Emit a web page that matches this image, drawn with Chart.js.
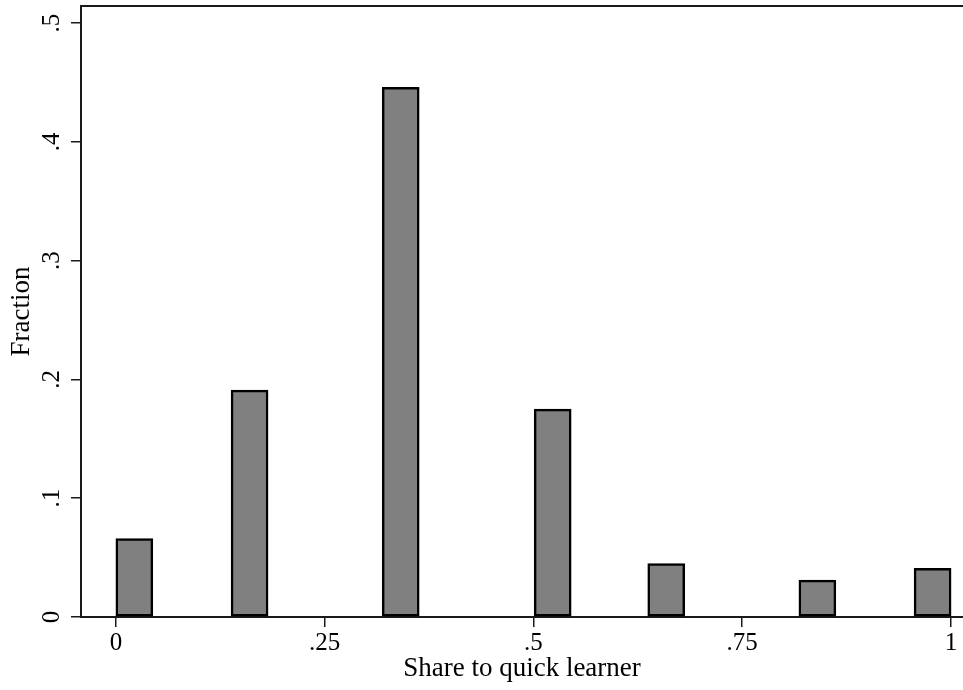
<!DOCTYPE html>
<html>
<head>
<meta charset="utf-8">
<script src="https://cdn.jsdelivr.net/npm/chart.js@4/dist/chart.umd.min.js"></script>
<style>
  html, body { margin: 0; padding: 0; background: #ffffff; overflow: hidden; }
  #wrap { width: 963px; height: 690px; }
</style>
</head>
<body>
<div id="wrap"><canvas id="c" width="963" height="690"></canvas></div>
<script>
// Bin centres (share to quick learner) and fractions
const binCenters = [0.022, 0.160, 0.341, 0.523, 0.659, 0.840, 0.978];
const fractions  = [0.066, 0.191, 0.446, 0.175, 0.045, 0.031, 0.041];

// Axis ticks and labels
const xTicks = [0, 0.25, 0.5, 0.75, 1];
const xTickLabels = ['0', '.25', '.5', '.75', '1'];
const yTicks = [0, 0.1, 0.2, 0.3, 0.4, 0.5];
const yTickLabels = ['0', '.1', '.2', '.3', '.4', '.5'];

// Axis ranges
const xRange = [-0.0419, 1.0144];
const yRange = [0, 0.5145];

const points = binCenters.map((x, i) => ({ x: x, y: fractions[i] }));

const serif = "'Liberation Serif', 'Times New Roman', serif";
const axisColor = '#1a1a1a';

function labelFor(ticks, labels) {
  return function (value) {
    const i = ticks.findIndex(t => Math.abs(t - value) < 1e-9);
    return i >= 0 ? labels[i] : '';
  };
}

new Chart(document.getElementById('c'), {
  type: 'bar',
  data: {
    datasets: [{
      data: points,
      backgroundColor: '#808080',
      borderColor: '#000000',
      borderWidth: 2.5,
      borderSkipped: false,
      barThickness: 37
    }]
  },
  options: {
    responsive: false,
    devicePixelRatio: 1,
    animation: false,
    layout: { padding: 0 },
    plugins: { legend: { display: false }, tooltip: { enabled: false } },
    scales: {
      x: {
        type: 'linear',
        position: 'bottom',
        offset: false,
        min: xRange[0],
        max: xRange[1],
        afterBuildTicks: s => { s.ticks = xTicks.map(v => ({ value: v })); },
        afterFit: s => { s.height = 73; s.paddingLeft = 0; s.paddingRight = 0; },
        grid: { offset: false, drawOnChartArea: false, drawTicks: true, tickLength: 10, color: axisColor, lineWidth: 1.5 },
        border: { display: true, color: axisColor, width: 2 },
        ticks: {
          autoSkip: false, maxRotation: 0, minRotation: 0, padding: 1,
          color: '#000', font: { family: serif, size: 25 },
          callback: labelFor(xTicks, xTickLabels)
        },
        title: {
          display: true, text: 'Share to quick learner', color: '#000',
          font: { family: serif, size: 27 }, padding: { top: 0, bottom: 5 }
        }
      },
      xTop: {
        type: 'linear',
        position: 'top',
        offset: false,
        min: xRange[0],
        max: xRange[1],
        afterFit: s => { s.height = 6; s.paddingLeft = 0; s.paddingRight = 0; },
        grid: { display: false, drawTicks: false },
        border: { display: true, color: axisColor, width: 2 },
        ticks: { display: false }
      },
      y: {
        type: 'linear',
        position: 'left',
        min: yRange[0],
        max: yRange[1],
        afterBuildTicks: s => { s.ticks = yTicks.map(v => ({ value: v })); },
        afterFit: s => { s.width = 81; s.paddingTop = 0; s.paddingBottom = 0; },
        grid: { drawOnChartArea: false, drawTicks: true, tickLength: 10, color: axisColor, lineWidth: 1.5 },
        border: { display: true, color: axisColor, width: 2 },
        ticks: {
          autoSkip: false, minRotation: 90, maxRotation: 90, crossAlign: 'center', padding: 9,
          color: '#000', font: { family: serif, size: 25 },
          callback: labelFor(yTicks, yTickLabels)
        },
        title: {
          display: true, text: 'Fraction', color: '#000',
          font: { family: serif, size: 27 }, padding: { top: 6, bottom: 0 }
        }
      }
    }
  }
});
</script>
</body>
</html>
